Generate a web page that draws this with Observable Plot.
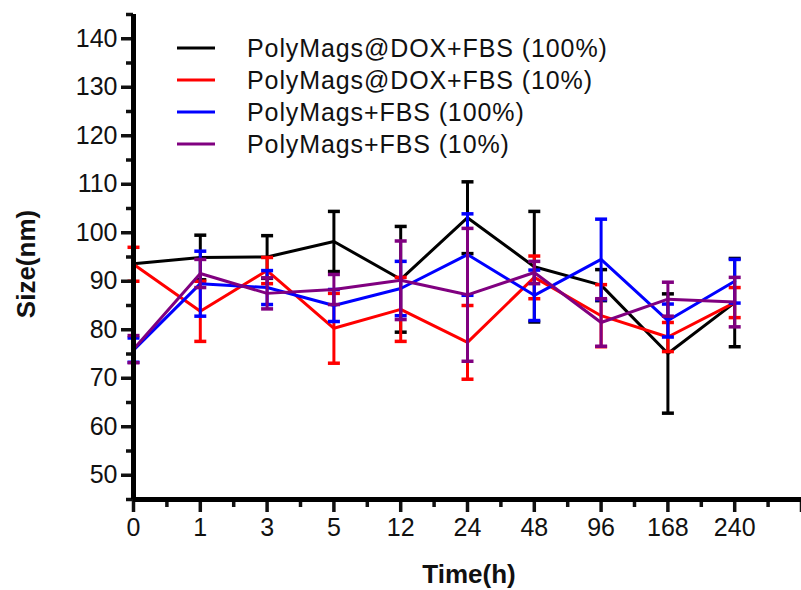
<!DOCTYPE html>
<html>
<head>
<meta charset="utf-8">
<script src="https://cdn.jsdelivr.net/npm/d3@7"></script>
<script src="https://cdn.jsdelivr.net/npm/@observablehq/plot@0.6"></script>
<style>
  html, body { margin: 0; padding: 0; background: #fff; }
  #chart svg { display: block; }
</style>
</head>
<body>
<div id="chart"></div>
<script>
// ---- data ----
const timeLabels = ["0", "1", "3", "5", "12", "24", "48", "96", "168", "240"];
const seriesNames = [
  "PolyMags@DOX+FBS (100%)",
  "PolyMags@DOX+FBS (10%)",
  "PolyMags+FBS (100%)",
  "PolyMags+FBS (10%)"
];
const seriesColors = ["#000000", "#ff0000", "#0000ff", "#800080"];
const dox100Mean = [93.6, 94.9, 95.0, 98.2, 90.4, 103.1, 93.0, 89.2, 75.1, 85.6];
const dox100Err  = [0.0, 4.6, 4.4, 6.2, 10.9, 7.4, 11.4, 3.2, 12.3, 9.1];
const dox10Mean  = [93.5, 83.8, 92.2, 80.3, 84.2, 77.4, 90.8, 82.9, 78.5, 85.6];
const dox10Err   = [3.5, 6.2, 2.7, 7.2, 6.6, 7.6, 4.4, 6.4, 3.0, 3.1];
const pm100Mean  = [75.8, 89.5, 88.7, 85.0, 88.5, 95.5, 87.1, 94.5, 81.9, 90.0];
const pm100Err   = [2.5, 6.7, 3.5, 3.3, 5.6, 8.4, 5.2, 8.3, 3.4, 4.5];
const pm10Mean   = [76.0, 91.6, 87.5, 88.3, 90.2, 87.2, 91.8, 81.5, 86.3, 85.7];
const pm10Err    = [2.8, 2.9, 3.2, 3.1, 8.1, 13.7, 2.3, 4.9, 3.5, 5.1];
const yMajorTicks = [50, 60, 70, 80, 90, 100, 110, 120, 130, 140];

// ---- build tables ----
const means = [dox100Mean, dox10Mean, pm100Mean, pm10Mean];
const errs = [dox100Err, dox10Err, pm100Err, pm10Err];
const rows = [];
means.forEach((m, s) => m.forEach((v, i) => rows.push({
  series: seriesNames[s], color: seriesColors[s], i, v, lo: v - errs[s][i], hi: v + errs[s][i], e: errs[s][i]
})));

const capSymbol = {
  draw(context, size) {
    const w = Math.sqrt(size / Math.PI);
    context.moveTo(-w, 0);
    context.lineTo(w, 0);
  }
};

const font = "'Liberation Sans', Arial, sans-serif";
const seriesMarks = seriesNames.flatMap((name) => {
  const d = rows.filter(r => r.series === name);
  const de = d.filter(r => r.e > 0);
  return [
    Plot.ruleX(de, {x: "i", y1: "lo", y2: "hi", stroke: "color", strokeWidth: 3}),
    Plot.dot(de, {x: "i", y: "hi", symbol: capSymbol, r: 6, stroke: "color", strokeWidth: 3.5}),
    Plot.dot(de, {x: "i", y: "lo", symbol: capSymbol, r: 6, stroke: "color", strokeWidth: 3.5}),
    Plot.line(d, {x: "i", y: "v", stroke: "color", strokeWidth: 3})
  ];
});

const svg = Plot.plot({
  width: 801,
  height: 590,
  marginLeft: 133,
  marginRight: 0,
  marginTop: 14,
  marginBottom: 91,
  style: {fontFamily: font, fontSize: "24px", color: "#111", background: "#fff", overflow: "visible"},
  x: {domain: [0, 10]},
  y: {domain: [45, 145]},
  color: {type: "identity"},
  marks: [
    ...seriesMarks,
    Plot.axisY({ticks: yMajorTicks, tickSize: 12, tickPadding: 4, fontSize: 24, strokeWidth: 3.5, label: null, tickFormat: d => String(d)}),
    Plot.axisY({ticks: d3.range(45, 146, 10), tickSize: 7, strokeWidth: 3.5, label: null, tickFormat: () => ""}),
    Plot.axisX({ticks: d3.range(0, timeLabels.length), tickSize: 13, tickPadding: 6, fontSize: 24, strokeWidth: 3.5, label: null, tickFormat: i => timeLabels[i]}),
    Plot.axisX({ticks: [timeLabels.length], tickSize: 13, strokeWidth: 3.5, label: null, tickFormat: () => ""}),
    Plot.axisX({ticks: d3.range(0.5, 10, 1), tickSize: 8, strokeWidth: 3.5, label: null, tickFormat: () => ""}),
    Plot.ruleX([0], {strokeWidth: 5, stroke: "#000"}),
    Plot.ruleY([45], {strokeWidth: 5, stroke: "#000"})
  ]
});

const g = d3.select(svg);
g.selectAll("g[aria-label$='tick label'] text").style("font-size", "25px").attr("fill", "#111");

// axis titles
g.append("text")
  .attr("x", 469).attr("y", 583)
  .attr("text-anchor", "middle")
  .style("font-family", font).style("font-weight", "bold").style("font-size", "26px")
  .attr("fill", "#111")
  .text("Time(h)");
g.append("text")
  .attr("transform", "translate(35,264) rotate(-90)")
  .attr("text-anchor", "middle")
  .style("font-family", font).style("font-weight", "bold").style("font-size", "26px")
  .attr("fill", "#111")
  .text("Size(nm)");
// legend
seriesNames.forEach((name, k) => {
  const ly = 48 + k * 32;
  g.append("line")
    .attr("x1", 177).attr("x2", 215).attr("y1", ly).attr("y2", ly)
    .attr("stroke", seriesColors[k]).attr("stroke-width", 3);
  g.append("text")
    .attr("x", 247).attr("y", ly + 9)
    .attr("text-anchor", "start")
    .style("font-family", font).style("font-size", "25px")
    .style("letter-spacing", "0.9px")
    .attr("fill", "#111")
    .text(name);
});

document.getElementById("chart").appendChild(svg);
</script>
</body>
</html>
